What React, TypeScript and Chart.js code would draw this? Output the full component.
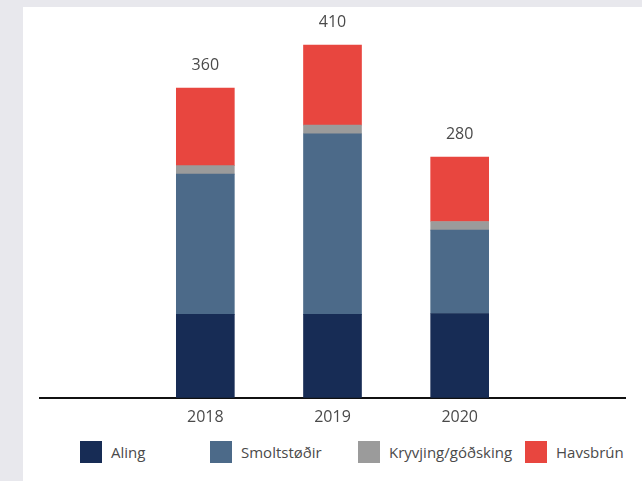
import React, { useEffect, useRef } from "react";
import { Chart, registerables } from "chart.js";

Chart.register(...registerables);

const years = [2018, 2019, 2020];
const seriesNames = ["Aling", "Smoltstøðir", "Kryvjing/góðsking", "Havsbrún"];
const aling = [97, 97, 98];
const smoltstodir = [163, 210, 97];
const kryvjing = [10, 10, 10];
const havsbrun = [90, 93, 75];
const seriesColors = ["#172c55", "#4c6a89", "#9b9b9b", "#e8463f"];

const FONT = "'Open Sans', 'DejaVu Sans', sans-serif";
const TEXT = "#4a4a4a";

const totalsPlugin = {
  id: "totals",
  afterDatasetsDraw(chart: any) {
    const ctx = chart.ctx;
    const n = chart.data.datasets.length;
    const topMeta = chart.getDatasetMeta(n - 1);
    ctx.save();
    ctx.font = `16px ${FONT}`;
    ctx.fillStyle = TEXT;
    ctx.textAlign = "center";
    ctx.textBaseline = "middle";
    chart.data.labels.forEach((_: any, i: number) => {
      let total = 0;
      chart.data.datasets.forEach((ds: any) => (total += ds.data[i]));
      const el = topMeta.data[i];
      ctx.fillText(String(total), el.x, el.y - 23);
    });
    ctx.restore();
  },
};

export default function App() {
  const ref = useRef<HTMLCanvasElement | null>(null);

  useEffect(() => {
    if (!ref.current) return;
    const values = [aling, smoltstodir, kryvjing, havsbrun];
    const chart = new Chart(ref.current, {
      type: "bar",
      data: {
        labels: years,
        datasets: seriesNames.map((name, i) => ({
          label: name,
          data: values[i],
          backgroundColor: seriesColors[i],
          borderWidth: 0,
          barThickness: 58,
        })),
      },
      options: {
        responsive: false,
        animation: false,
        layout: { padding: { top: 21, bottom: 0, left: 17, right: 17 } },
        plugins: {
          legend: { display: false },
          tooltip: { enabled: false },
        },
        scales: {
          x: {
            type: "linear",
            stacked: true,
            offset: false,
            min: 2016.7,
            max: 2021.3,
            grid: { display: false, drawTicks: false, offset: false },
            border: { display: true, color: "#111111", width: 2 },
            afterBuildTicks: (scale: any) => {
              scale.ticks = years.map((v) => ({ value: v }));
            },
            ticks: {
              padding: 10,
              color: TEXT,
              font: { family: FONT, size: 16 },
              callback: (v: any) => String(v),
            },
          },
          y: {
            stacked: true,
            display: false,
            min: 0,
            max: 430,
          },
        },
      },
      plugins: [totalsPlugin],
    } as any);
    return () => chart.destroy();
  }, []);

  const legendLeft = [80, 210, 358, 525];

  return (
    <div
      style={{
        position: "fixed",
        left: 0,
        top: 0,
        width: 642,
        height: 481,
        background: "#e8e8ed",
        overflow: "hidden",
      }}
    >
      <div
        style={{
          position: "absolute",
          left: 23,
          top: 7,
          width: 619,
          height: 474,
          background: "#ffffff",
        }}
      >
        <canvas
          ref={ref}
          width={619}
          height={430}
          style={{ position: "absolute", left: 0, top: 0, width: 619, height: 430 }}
        />
      </div>
      {seriesNames.map((name, i) => (
        <div
          key={name}
          style={{
            position: "absolute",
            left: legendLeft[i],
            top: 441,
            height: 22,
            display: "flex",
            alignItems: "center",
            fontFamily: FONT,
            fontSize: 15,
            color: TEXT,
            whiteSpace: "nowrap",
          }}
        >
          <span
            style={{
              display: "inline-block",
              width: 22,
              height: 22,
              background: seriesColors[i],
              marginRight: 9,
            }}
          />
          <span>{name}</span>
        </div>
      ))}
    </div>
  );
}
